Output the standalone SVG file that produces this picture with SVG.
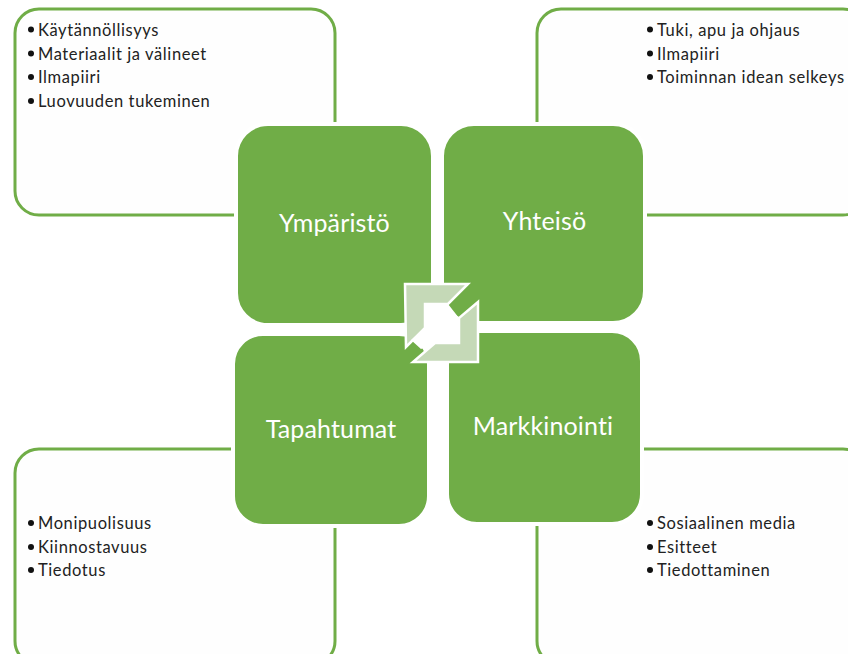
<svg xmlns="http://www.w3.org/2000/svg" width="848" height="654" viewBox="0 0 848 654">
<style>
.box{fill:#fefefe;stroke:#70ad47;stroke-width:3}
.hub{fill:#70ad47;stroke:#fff;stroke-width:4}
.t{font-family:Lato,"Open Sans","Liberation Sans",sans-serif;font-size:16.5px;letter-spacing:.6px;fill:#222}
.b{fill:#111}
.h{font-family:Lato,"Open Sans","Liberation Sans",sans-serif;font-size:25px;letter-spacing:.15px;fill:#fff;text-anchor:middle}
.arr{fill:#c5d9b7;stroke:#fff;stroke-width:2.500;stroke-linejoin:miter}
</style>
<rect width="848" height="654" fill="#fff"/>
<g id="box-ymparisto"><rect class="box" x="15" y="9" width="320" height="206" rx="24"/>
<circle class="b" cx="31" cy="29.500" r="3"/><text class="t" x="38" y="36">Käytännöllisyys</text>
<circle class="b" cx="31" cy="53.500" r="3"/><text class="t" x="38" y="60">Materiaalit ja välineet</text>
<circle class="b" cx="31" cy="77" r="3"/><text class="t" x="38" y="83">Ilmapiiri</text>
<circle class="b" cx="31" cy="101" r="3"/><text class="t" x="38" y="107">Luovuuden tukeminen</text></g>
<g id="box-yhteiso"><rect class="box" x="537" y="9" width="330" height="206" rx="24"/>
<circle class="b" cx="650" cy="29.500" r="3"/><text class="t" x="657" y="36">Tuki, apu ja ohjaus</text>
<circle class="b" cx="650" cy="53.500" r="3"/><text class="t" x="657" y="60">Ilmapiiri</text>
<circle class="b" cx="650" cy="77" r="3"/><text class="t" x="657" y="83">Toiminnan idean selkeys</text></g>
<g id="box-tapahtumat"><rect class="box" x="15" y="449" width="320" height="216" rx="24"/>
<circle class="b" cx="31" cy="523" r="3"/><text class="t" x="38" y="529">Monipuolisuus</text>
<circle class="b" cx="31" cy="547" r="3"/><text class="t" x="38" y="553">Kiinnostavuus</text>
<circle class="b" cx="31" cy="570" r="3"/><text class="t" x="38" y="576">Tiedotus</text></g>
<g id="box-markkinointi"><rect class="box" x="537" y="449" width="330" height="216" rx="24"/>
<circle class="b" cx="650" cy="523" r="3"/><text class="t" x="657" y="529">Sosiaalinen media</text>
<circle class="b" cx="650" cy="547" r="3"/><text class="t" x="657" y="553">Esitteet</text>
<circle class="b" cx="650" cy="570" r="3"/><text class="t" x="657" y="576">Tiedottaminen</text></g>
<g id="node-ymparisto"><rect class="hub" x="236" y="124" width="197" height="201" rx="32"/><text class="h" x="334.500" y="232">Ympäristö</text></g>
<g id="node-yhteiso"><rect class="hub" x="442" y="124" width="203" height="199" rx="32"/><text class="h" x="544.500" y="230">Yhteisö</text></g>
<g id="node-tapahtumat"><rect class="hub" x="233" y="334" width="196" height="192" rx="30"/><text class="h" x="331" y="438">Tapahtumat</text></g>
<g id="node-markkinointi"><rect class="hub" x="447" y="331" width="195" height="193" rx="30"/><text class="h" x="543" y="435">Markkinointi</text></g>
<g id="connectors">
<path class="arr" d="M405 284L468 284L448 304L425 304L425 328L406 347Z"/>
<path class="arr" d="M478 302L478 362L413 362L435 343L459 343L459 318Z"/>
<path fill="#fff" d="M425 304L448 304L459 318L459 343L435 343L421 349L411 340L425 328Z"/>
</g>
</svg>
